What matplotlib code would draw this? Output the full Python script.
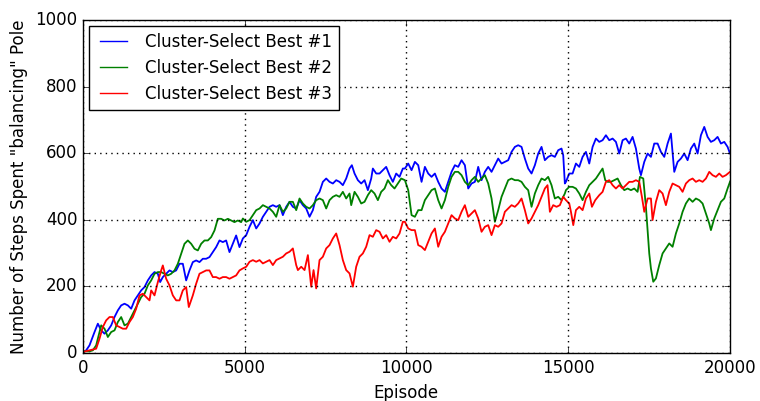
import numpy as np
import matplotlib
matplotlib.use('Agg')
import matplotlib.pyplot as plt

# Cluster-Select Best #1 (blue)
best1_ep = [0, 103, 206, 361, 464, 567, 670, 773, 876, 979, 1082, 1185, 1288, 1391, 1494, 1597,
            1700, 1803, 1906, 2009, 2112, 2215, 2318, 2390, 2472, 2575, 2678, 2781, 2884, 2987,
            3090, 3193, 3296, 3399, 3502, 3605, 3708, 3811, 3914, 4017, 4120, 4223, 4326, 4429,
            4532, 4635, 4738, 4841,
            4946, 5049, 5152, 5255, 5358, 5461, 5564, 5667, 5770, 5873, 5976, 6079, 6182, 6285,
            6388, 6491, 6594, 6697, 6800, 6903, 7006, 7109, 7212, 7315, 7418, 7521, 7624, 7727,
            7830, 7933, 8036, 8139, 8242, 8314, 8397, 8500, 8603, 8706, 8809, 8912, 8963, 9066,
            9169, 9272, 9375, 9478, 9581, 9684, 9787, 9890,
            9953, 10056, 10159, 10262, 10365, 10468, 10571, 10674, 10777, 10880, 10983, 11086,
            11189, 11292, 11395, 11498, 11601, 11704, 11807, 11910, 12013, 12116, 12219, 12322,
            12425, 12528, 12631, 12734, 12837, 12940, 13043, 13146, 13249, 13352, 13455, 13558,
            13661, 13764, 13867, 13970, 14073, 14176, 14279, 14382, 14485, 14588, 14691, 14794,
            14846, 14897,
            14930, 15033, 15136, 15239, 15342, 15445, 15548, 15651, 15754, 15857, 15960, 16063,
            16166, 16269, 16372, 16475, 16578, 16681, 16784, 16887, 16990, 17093, 17196, 17248,
            17351, 17454, 17557, 17660, 17763, 17866, 17969, 18072, 18175, 18278, 18381, 18484,
            18587, 18690, 18793, 18896, 18999, 19102, 19205, 19308, 19411, 19514, 19617, 19720,
            19823, 19926, 20000]
best1_val = [2, 8, 23, 63, 88, 68, 58, 68, 83, 108, 128, 143, 148, 143, 133, 158, 173, 188, 198,
             218, 233, 243, 238, 213, 228, 238, 248, 243, 248, 268, 268, 218, 248, 273, 278, 273,
             283, 283, 288, 303, 318, 338, 333, 338, 303, 328, 353, 318,
             344, 354, 379, 399, 374, 389, 409, 424, 439, 444, 439, 444, 414, 439, 454, 439, 434,
             459, 444, 434, 409, 429, 469, 484, 514, 524, 514, 509, 519, 514, 504, 524, 554, 564,
             539, 519, 509, 519, 489, 524, 554, 539, 539, 549, 559, 534, 514, 539, 529, 554,
             554, 569, 549, 574, 564, 514, 559, 539, 529, 539, 514, 494, 484, 514, 544, 564, 559,
             579, 564, 494, 509, 514, 559, 519, 544, 559, 544, 564, 584, 569, 574, 579, 604, 619,
             624, 619, 584, 554, 539, 564, 599, 619, 579, 589, 594, 589, 609, 614, 594, 509,
             514, 539, 539, 569, 559, 589, 604, 569, 619, 644, 634, 639, 654, 639, 644, 634, 599,
             639, 644, 629, 649, 614, 554, 534, 574, 599, 589, 629, 629, 604, 589, 629, 659, 544,
             574, 584, 599, 579, 614, 629, 599, 654, 679, 649, 634, 639, 649, 629, 634, 619, 599]

# Cluster-Select Best #2 (green)
best2_ep = [0, 206, 309, 412, 515, 567, 670, 773, 876, 979, 1082, 1185, 1288, 1391, 1494, 1597,
            1700, 1803, 1906, 2009, 2112, 2215, 2318, 2421, 2524, 2627, 2730, 2833, 2936, 3039,
            3142, 3245, 3348, 3451, 3554, 3657, 3760, 3863, 3966, 4069, 4172, 4275, 4378, 4481,
            4584, 4687, 4790, 4893,
            4946, 5049, 5152, 5255, 5358, 5461, 5564, 5667, 5770, 5873, 5976, 6079, 6182, 6285,
            6388, 6491, 6594, 6697, 6800, 6903, 7006, 7109, 7212, 7315, 7418, 7521, 7624, 7727,
            7830, 7933, 8036, 8139, 8242, 8294, 8397, 8500, 8603, 8706, 8809, 8912, 9015, 9118,
            9221, 9324, 9427, 9530, 9633, 9736, 9839,
            9953, 10056, 10159, 10262, 10365, 10468, 10571, 10674, 10777, 10880, 10983, 11086,
            11189, 11292, 11395, 11498, 11601, 11704, 11807, 11910, 12013, 12116, 12219, 12322,
            12425, 12528, 12631, 12734, 12837, 12940, 13043, 13146, 13249, 13352, 13455, 13558,
            13661, 13764, 13867, 13970, 14073, 14176, 14279, 14382, 14485, 14588, 14691, 14794,
            14897,
            14930, 15033, 15136, 15239, 15342, 15445, 15548, 15651, 15754, 15857, 15960, 16063,
            16145, 16218, 16321, 16424, 16527, 16630, 16733, 16836, 16939, 17042, 17145, 17217,
            17320, 17402, 17454, 17505, 17557, 17629, 17711, 17814, 17917, 18020, 18123, 18226,
            18329, 18432, 18535, 18638, 18741, 18844, 18947, 19050, 19153, 19256, 19359, 19411,
            19514, 19617, 19720, 19823, 19926, 20000]
best2_val = [5, 5, 8, 23, 63, 83, 73, 48, 63, 68, 93, 108, 83, 88, 108, 128, 148, 168, 178, 203,
             218, 238, 243, 243, 238, 233, 238, 248, 268, 298, 328, 338, 328, 313, 308, 328, 338,
             338, 348, 368, 403, 403, 398, 403, 398, 393, 398, 393,
             404, 394, 399, 414, 429, 434, 444, 439, 434, 424, 409, 444, 424, 434, 454, 454, 429,
             464, 449, 439, 434, 444, 459, 464, 459, 434, 459, 469, 474, 469, 484, 464, 479, 444,
             484, 469, 449, 454, 474, 489, 479, 459, 484, 494, 519, 504, 494, 509, 524,
             519, 489, 414, 409, 429, 429, 459, 474, 489, 494, 459, 434, 459, 499, 529, 544, 544,
             534, 514, 504, 519, 529, 514, 524, 534, 509, 464, 394, 429, 469, 494, 519, 524, 519,
             519, 514, 499, 489, 439, 479, 504, 524, 519, 529, 504, 464, 469, 459, 479,
             489, 499, 499, 494, 479, 459, 484, 504, 514, 524, 539, 554, 519, 514, 514, 519, 524,
             504, 489, 494, 489, 494, 484, 529, 524, 439, 369, 299, 254, 214, 224, 264, 299, 314,
             329, 319, 359, 389, 424, 449, 464, 454, 464, 459, 449, 419, 389, 369, 404, 429, 454,
             464, 494, 514]

# Cluster-Select Best #3 (red)
best3_ep = [0, 206, 412, 515, 618, 721, 824, 927, 1030, 1133, 1236, 1339, 1442, 1545, 1648, 1751,
            1854, 1957, 2060, 2112, 2215, 2318, 2421, 2472, 2575, 2678, 2781, 2884, 2987, 3090,
            3193, 3275, 3399, 3502, 3605, 3708, 3811, 3914, 4017, 4120, 4223, 4326, 4429, 4532,
            4635, 4738, 4841,
            4946, 5049, 5152, 5255, 5358, 5461, 5564, 5667, 5770, 5873, 5976, 6079, 6182, 6285,
            6388, 6491, 6594, 6646, 6749, 6852, 6955, 7058, 7130, 7212, 7315, 7418, 7521, 7624,
            7727, 7830, 7933, 8036, 8139, 8242, 8345, 8448, 8551, 8654, 8757, 8860, 8963, 9066,
            9169, 9272, 9375, 9478, 9581, 9684, 9787, 9890,
            9953, 10056, 10159, 10262, 10365, 10468, 10571, 10674, 10777, 10880, 10983, 11086,
            11189, 11292, 11395, 11498, 11601, 11704, 11807, 11910, 12013, 12116, 12219, 12322,
            12425, 12528, 12631, 12734, 12837, 12940, 13043, 13146, 13249, 13352, 13455, 13558,
            13661, 13764, 13867, 13970, 14073, 14176, 14279, 14361, 14434, 14537, 14640, 14743,
            14846,
            14930, 15033, 15085, 15157, 15239, 15342, 15445, 15548, 15651, 15733, 15836, 15960,
            16063, 16166, 16269, 16372, 16475, 16578, 16681, 16784, 16887, 16990, 17093, 17196,
            17278, 17351, 17454, 17557, 17608, 17711, 17814, 17917, 18020, 18123, 18226, 18329,
            18432, 18535, 18638, 18741, 18844, 18947, 19050, 19153, 19256, 19359, 19462, 19565,
            19668, 19771, 19874, 20000]
best3_val = [3, 8, 13, 43, 78, 98, 108, 108, 83, 78, 73, 73, 93, 108, 133, 173, 178, 168, 158,
             188, 173, 213, 248, 263, 223, 203, 173, 158, 158, 188, 198, 138, 173, 208, 238, 243,
             248, 248, 228, 228, 223, 228, 228, 223, 228, 233, 248,
             254, 259, 274, 279, 274, 279, 269, 274, 279, 264, 279, 284, 289, 299, 304, 314, 264,
             249, 259, 249, 294, 199, 249, 194, 279, 289, 314, 324, 344, 359, 324, 279, 249, 239,
             199, 259, 289, 299, 319, 354, 349, 369, 364, 344, 354, 334, 349, 344, 359, 394,
             394, 374, 369, 369, 324, 319, 309, 334, 359, 374, 319, 349, 364, 389, 414, 404, 399,
             424, 444, 409, 419, 429, 404, 364, 379, 384, 354, 384, 379, 389, 424, 434, 444, 439,
             449, 464, 429, 389, 404, 424, 444, 469, 494, 504, 424, 444, 439, 444, 469,
             459, 449, 424, 384, 429, 439, 429, 464, 479, 439, 459, 474, 484, 514, 519, 504, 494,
             504, 494, 504, 514, 514, 519, 514, 469, 424, 464, 464, 399, 454, 489, 479, 444, 484,
             509, 504, 499, 484, 509, 519, 524, 514, 519, 514, 524, 544, 534, 529, 539, 529, 534,
             544]

labels = ['Cluster-Select Best #1', 'Cluster-Select Best #2', 'Cluster-Select Best #3']

plt.style.use('classic')
plt.rcParams['font.family'] = 'DejaVu Sans'

fig = plt.figure(figsize=(7.6, 4.01), dpi=100, facecolor='white')
ax = fig.add_axes([0.109, 0.1197, 0.8515, 0.8304])

ax.plot(best1_ep, best1_val, 'b-', lw=1.3, label=labels[0])
ax.plot(best2_ep, best2_val, 'g-', lw=1.3, label=labels[1])
ax.plot(best3_ep, best3_val, 'r-', lw=1.3, label=labels[2])

ax.set_xlim(0, 20000)
ax.set_ylim(0, 1000)
ax.set_xticks([0, 5000, 10000, 15000, 20000])
ax.set_yticks([0, 200, 400, 600, 800, 1000])
ax.grid(True, color='k', linestyle=':', lw=1)
ax.tick_params(labelsize=12)

ax.set_xlabel('Episode', fontsize=12)
ax.set_ylabel('Number of Steps Spent "balancing" Pole', fontsize=12)
leg = ax.legend(loc='upper left', fontsize=12, handlelength=2.2, borderaxespad=0.35)
for line in leg.get_lines():
    line.set_linewidth(1)

fig.savefig('out.png', dpi=100, facecolor='white')
